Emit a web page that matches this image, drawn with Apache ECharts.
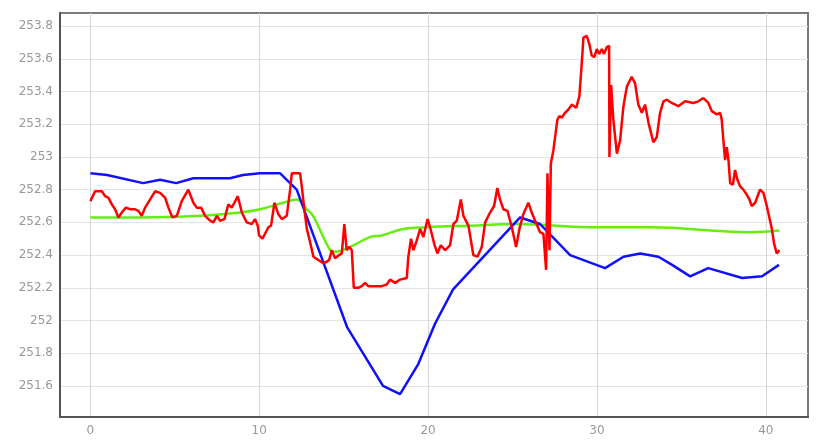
<!DOCTYPE html>
<html>
<head>
<meta charset="utf-8">
<script src="https://cdn.jsdelivr.net/npm/echarts@6/dist/echarts.min.js"></script>
<style>html,body{margin:0;padding:0;background:#fff}#c{width:821px;height:446px}</style>
</head>
<body>
<div id="c"></div>
<script>
var xTicks = [0, 10, 20, 30, 40];
var yTicks = [251.6, 251.8, 252, 252.2, 252.4, 252.6, 252.8, 253, 253.2, 253.4, 253.6, 253.8];

var redX = [0.0,0.08,0.28,0.68,0.87,1.07,1.27,1.46,1.66,1.86,2.10,2.35,2.65,2.84,3.04,3.24,3.54,3.83,4.13,4.43,4.62,4.86,5.12,5.41,5.80,6.10,6.30,6.56,6.79,7.09,7.28,7.49,7.68,7.94,8.17,8.37,8.53,8.73,8.97,9.26,9.56,9.75,9.91,9.99,10.19,10.54,10.70,10.90,11.13,11.34,11.63,11.83,11.93,12.22,12.42,12.52,12.67,12.82,13.01,13.21,13.50,13.80,14.00,14.14,14.30,14.49,14.73,14.89,15.04,15.18,15.34,15.48,15.60,15.87,16.07,16.27,16.46,16.86,17.26,17.55,17.75,18.05,18.34,18.74,18.83,18.99,19.13,19.33,19.53,19.72,19.97,20.12,20.36,20.55,20.75,21.01,21.30,21.50,21.70,21.94,22.09,22.39,22.68,22.92,23.18,23.38,23.67,23.91,24.10,24.26,24.46,24.70,24.96,25.21,25.41,25.64,25.94,26.14,26.34,26.63,26.83,26.99,27.07,27.19,27.27,27.42,27.52,27.66,27.78,27.92,28.11,28.31,28.51,28.77,28.96,29.10,29.20,29.40,29.55,29.69,29.85,29.99,30.14,30.29,30.42,30.58,30.72,30.74,30.84,30.97,31.18,31.37,31.57,31.77,32.06,32.26,32.45,32.66,32.85,33.05,33.34,33.54,33.74,33.94,34.14,34.43,34.82,35.22,35.71,36.01,36.30,36.60,36.80,37.10,37.29,37.39,37.49,37.59,37.69,37.79,37.89,38.05,38.18,38.32,38.48,38.67,38.87,39.03,39.17,39.37,39.66,39.86,40.06,40.36,40.49,40.65,40.81];
var redY = [252.73,252.72,252.79,252.79,252.76,252.75,252.71,252.68,252.63,252.66,252.69,252.68,252.68,252.67,252.64,252.69,252.74,252.79,252.78,252.75,252.69,252.63,252.64,252.73,252.80,252.72,252.69,252.69,252.64,252.61,252.60,252.64,252.61,252.62,252.71,252.69,252.72,252.76,252.66,252.60,252.59,252.62,252.58,252.52,252.50,252.57,252.58,252.72,252.65,252.62,252.64,252.80,252.90,252.90,252.90,252.82,252.68,252.56,252.48,252.39,252.37,252.35,252.36,252.37,252.43,252.38,252.40,252.41,252.59,252.43,252.45,252.43,252.20,252.20,252.21,252.23,252.21,252.21,252.21,252.22,252.25,252.23,252.25,252.26,252.39,252.50,252.43,252.49,252.56,252.51,252.62,252.57,252.47,252.41,252.46,252.43,252.46,252.59,252.61,252.74,252.64,252.58,252.40,252.39,252.45,252.60,252.66,252.70,252.81,252.74,252.68,252.67,252.57,252.45,252.56,252.65,252.72,252.66,252.61,252.54,252.53,252.31,252.90,252.43,252.96,253.04,253.12,253.23,253.25,253.24,253.27,253.29,253.32,253.30,253.37,253.57,253.73,253.74,253.69,253.62,253.61,253.66,253.63,253.66,253.63,253.67,253.68,253.00,253.44,253.23,253.02,253.10,253.31,253.43,253.49,253.45,253.32,253.27,253.32,253.21,253.09,253.12,253.27,253.34,253.35,253.33,253.31,253.34,253.33,253.34,253.36,253.33,253.28,253.26,253.27,253.23,253.10,252.98,253.06,252.98,252.84,252.83,252.92,252.86,252.82,252.80,252.77,252.74,252.70,252.72,252.80,252.78,252.70,252.56,252.47,252.41,252.43];

var blueX = [0,0.99,3.12,4.13,5.08,6.10,8.27,9.04,10.05,11.24,12.22,15.2,17.33,18.34,19.40,20.41,21.48,25.45,26.63,28.41,30.48,31.57,32.56,33.64,34.45,35.52,36.59,38.6,39.78,40.78];
var blueY = [252.90,252.89,252.84,252.86,252.84,252.87,252.87,252.89,252.90,252.90,252.80,251.96,251.60,251.55,251.73,251.98,252.19,252.63,252.59,252.40,252.32,252.39,252.41,252.39,252.34,252.27,252.32,252.26,252.27,252.34];

var greenX = [0,2.95,6.50,8.87,10.05,11.41,12.22,12.82,13.19,14.2,14.49,15.38,16.56,17.26,18.52,19.92,22.48,25.25,30.03,33.15,39.06,40.79];
var greenY = [252.63,252.63,252.64,252.66,252.68,252.72,252.74,252.68,252.64,252.43,252.42,252.45,252.51,252.52,252.56,252.57,252.58,252.59,252.57,252.57,252.54,252.55];

function pairs(xs, ys) { return xs.map(function (x, i) { return [x, ys[i]]; }); }

var chart = echarts.init(document.getElementById('c'));
var labelStyle = { color: '#999', fontFamily: 'DejaVu Sans', fontSize: 12 };
chart.setOption({
  animation: false,
  grid: { left: 60, right: 13, top: 13, bottom: 29, show: true, borderColor: '#7a7a7a', borderWidth: 2, backgroundColor: 'transparent' },
  xAxis: {
    type: 'value', min: -1.8, max: 42.5,
    axisLine: { show: true, onZero: false, lineStyle: { color: '#555', width: 2 } },
    axisTick: { show: false, customValues: xTicks },
    axisLabel: Object.assign({ customValues: xTicks, margin: 8 }, labelStyle),
    splitLine: { show: true, lineStyle: { color: '#d6d6d6', width: 1 } }
  },
  yAxis: {
    type: 'value', min: 251.41, max: 253.88,
    axisLine: { show: true, onZero: false, lineStyle: { color: '#555', width: 2 } },
    axisTick: { show: false, customValues: yTicks },
    axisLabel: Object.assign({ customValues: yTicks, margin: 7 }, labelStyle),
    splitLine: { show: true, lineStyle: { color: '#e4e4e4', width: 1 } }
  },
  series: [
    { type: 'line', data: pairs(greenX, greenY), smooth: 0.4, symbol: 'none', lineStyle: { color: '#66ee11', width: 2.5 }, z: 2 },
    { type: 'line', data: pairs(blueX, blueY), symbol: 'none', lineStyle: { color: '#1010ff', width: 2.5 }, z: 3 },
    { type: 'line', data: pairs(redX, redY), symbol: 'none', lineStyle: { color: '#ff0000', width: 2.5 }, z: 4 }
  ]
});
</script>
</body>
</html>
